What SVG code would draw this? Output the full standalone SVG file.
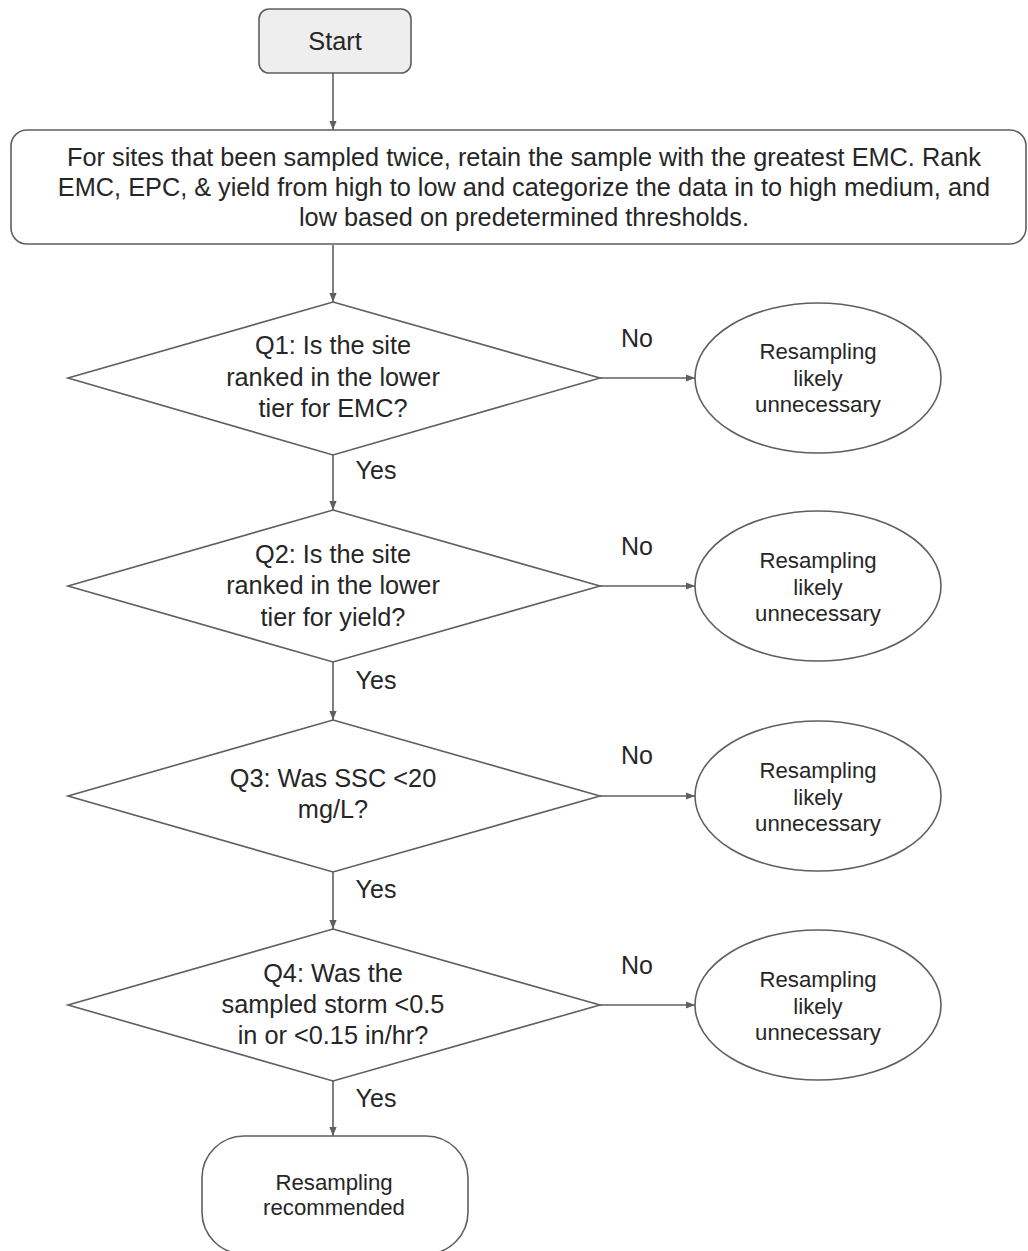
<svg xmlns="http://www.w3.org/2000/svg" width="1028" height="1251" viewBox="0 0 1028 1251">
<style>
  .shape { fill: #ffffff; stroke: #5f5f5f; stroke-width: 1.6; }
  .start { fill: #eeeeee; }
  .conn { stroke: #5f5f5f; stroke-width: 1.6; fill: none; marker-end: url(#arrow); }
  text { font-family: "Liberation Sans", Arial, sans-serif; fill: #262626; text-anchor: middle; }
  .big { font-size: 25.3px; }
  .mid { font-size: 25px; }
  .small { font-size: 22.2px; }
</style>
<defs>
  <marker id="arrow" viewBox="0 0 10 10" refX="10" refY="5" markerWidth="9" markerHeight="9" markerUnits="userSpaceOnUse" orient="auto">
    <path d="M0,1 L10,5 L0,9 Z" fill="#5f5f5f"/>
  </marker>
</defs>
<rect width="1028" height="1251" fill="#ffffff"/>

<g id="connectors">
  <line class="conn" x1="333" y1="73" x2="333" y2="130"/>
  <line class="conn" x1="333" y1="245" x2="333" y2="302"/>
  <line class="conn" x1="333" y1="455" x2="333" y2="510"/>
  <line class="conn" x1="333" y1="662" x2="333" y2="720"/>
  <line class="conn" x1="333" y1="872" x2="333" y2="929"/>
  <line class="conn" x1="333" y1="1081" x2="333" y2="1136"/>
  <line class="conn" x1="600" y1="378" x2="695" y2="378"/>
  <line class="conn" x1="600" y1="586" x2="695" y2="586"/>
  <line class="conn" x1="600" y1="796" x2="695" y2="796"/>
  <line class="conn" x1="600" y1="1005" x2="695" y2="1005"/>
  <text class="mid" x="637" y="347">No</text>
  <text class="mid" x="637" y="555">No</text>
  <text class="mid" x="637" y="764">No</text>
  <text class="mid" x="637" y="974">No</text>
  <text class="mid" x="376" y="479">Yes</text>
  <text class="mid" x="376" y="689">Yes</text>
  <text class="mid" x="376" y="898">Yes</text>
  <text class="mid" x="376" y="1107">Yes</text>
</g>

<g id="start">
  <rect class="shape start" x="259" y="9" width="152" height="64" rx="10"/>
  <text class="big" x="335" y="50">Start</text>
</g>

<g id="prepare">
  <rect class="shape" x="11" y="130" width="1015" height="114" rx="16"/>
  <text class="big" x="524" y="166">For sites that been sampled twice, retain the sample with the greatest EMC. Rank</text>
  <text class="big" x="524" y="196">EMC, EPC, &amp; yield from high to low and categorize the data in to high medium, and</text>
  <text class="big" x="524" y="226">low based on predetermined thresholds.</text>
</g>

<g id="q1">
  <polygon class="shape" points="333,302 600,378 333,455 68,378"/>
  <text class="big" x="333" y="354">Q1: Is the site</text>
  <text class="big" x="333" y="386">ranked in the lower</text>
  <text class="big" x="333" y="417">tier for EMC?</text>
</g>
<g id="r1">
  <ellipse class="shape" cx="818" cy="378" rx="123" ry="75"/>
  <text class="small" x="818" y="359">Resampling</text>
  <text class="small" x="818" y="386">likely</text>
  <text class="small" x="818" y="412">unnecessary</text>
</g>

<g id="q2">
  <polygon class="shape" points="333,510 600,586 333,662 68,586"/>
  <text class="big" x="333" y="563">Q2: Is the site</text>
  <text class="big" x="333" y="594">ranked in the lower</text>
  <text class="big" x="333" y="626">tier for yield?</text>
</g>
<g id="r2">
  <ellipse class="shape" cx="818" cy="586" rx="123" ry="75"/>
  <text class="small" x="818" y="568">Resampling</text>
  <text class="small" x="818" y="595">likely</text>
  <text class="small" x="818" y="621">unnecessary</text>
</g>

<g id="q3">
  <polygon class="shape" points="333,720 600,796 333,872 68,796"/>
  <text class="big" x="333" y="787">Q3: Was SSC &lt;20</text>
  <text class="big" x="333" y="818">mg/L?</text>
</g>
<g id="r3">
  <ellipse class="shape" cx="818" cy="796" rx="123" ry="75"/>
  <text class="small" x="818" y="778">Resampling</text>
  <text class="small" x="818" y="805">likely</text>
  <text class="small" x="818" y="831">unnecessary</text>
</g>

<g id="q4">
  <polygon class="shape" points="333,929 600,1005 333,1081 68,1005"/>
  <text class="big" x="333" y="982">Q4: Was the</text>
  <text class="big" x="333" y="1013">sampled storm &lt;0.5</text>
  <text class="big" x="333" y="1044">in or &lt;0.15 in/hr?</text>
</g>
<g id="r4">
  <ellipse class="shape" cx="818" cy="1005" rx="123" ry="75"/>
  <text class="small" x="818" y="987">Resampling</text>
  <text class="small" x="818" y="1014">likely</text>
  <text class="small" x="818" y="1040">unnecessary</text>
</g>

<g id="end">
  <rect class="shape" x="202" y="1136" width="266" height="118" rx="42"/>
  <text class="small" x="334" y="1190">Resampling</text>
  <text class="small" x="334" y="1215">recommended</text>
</g>
</svg>
